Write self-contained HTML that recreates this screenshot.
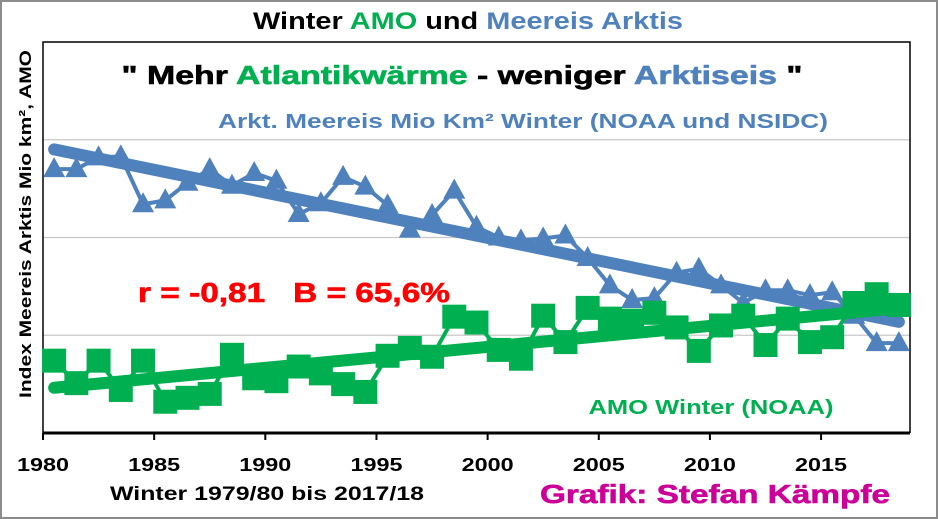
<!DOCTYPE html>
<html><head><meta charset="utf-8"><style>
body{margin:0;background:#fff;}
svg{display:block;font-family:"Liberation Sans",Arial,sans-serif;font-weight:bold;}
.h{stroke-width:0.6px;paint-order:stroke;}
</style></head><body>
<svg id="chart" width="938" height="519" viewBox="0 0 938 519">
<rect x="1" y="1" width="936" height="517" fill="#fff" stroke="#8c8c8c" stroke-width="2"/>
<text x="468" y="29" text-anchor="middle" font-size="24" textLength="430" lengthAdjust="spacingAndGlyphs">Winter <tspan fill="#00b050">AMO</tspan> und <tspan fill="#4f81bd">Meereis Arktis</tspan></text>
<g id="plot"></g>
<text class="h" stroke="#000" x="462" y="84" text-anchor="middle" font-size="26" textLength="681" lengthAdjust="spacingAndGlyphs">" Mehr <tspan fill="#00b050" stroke="#00b050">Atlantikwärme</tspan> - weniger <tspan fill="#4f81bd" stroke="#4f81bd">Arktiseis</tspan> "</text>
<text x="523" y="128" text-anchor="middle" font-size="20" fill="#4f81bd" textLength="610" lengthAdjust="spacingAndGlyphs">Arkt. Meereis Mio Km² Winter (NOAA und NSIDC)</text>
<text class="h" stroke="#ff0000" x="294" y="302" text-anchor="middle" font-size="28" fill="#ff0000" textLength="312" lengthAdjust="spacingAndGlyphs">r = -0,81 &#160;&#160;B = 65,6%</text>
<text x="711" y="414" text-anchor="middle" font-size="20" fill="#00b050" textLength="245" lengthAdjust="spacingAndGlyphs">AMO Winter (NOAA)</text>
<text transform="translate(31,224) rotate(-90)" text-anchor="middle" font-size="17" textLength="348" lengthAdjust="spacingAndGlyphs">Index Meereis Arktis Mio km², AMO</text>
<text x="267" y="500" text-anchor="middle" font-size="19" textLength="314" lengthAdjust="spacingAndGlyphs">Winter 1979/80 bis 2017/18</text>
<text class="h" stroke="#cc0099" x="715" y="503" text-anchor="middle" font-size="26" fill="#cc0099" textLength="350" lengthAdjust="spacingAndGlyphs">Grafik: Stefan Kämpfe</text>
</svg>
<script>
const years = [1980,1981,1982,1983,1984,1985,1986,1987,1988,1989,1990,1991,1992,1993,1994,1995,1996,1997,1998,1999,2000,2001,2002,2003,2004,2005,2006,2007,2008,2009,2010,2011,2012,2013,2014,2015,2016,2017,2018];
const iceValues = [2.70,2.70,2.82,2.83,2.34,2.38,2.56,2.70,2.53,2.66,2.58,2.24,2.35,2.62,2.52,2.33,2.08,2.23,2.48,2.11,2.00,1.97,1.99,2.02,1.79,1.51,1.36,1.38,1.64,1.68,1.51,1.33,1.46,1.46,1.41,1.44,1.20,0.92,0.92];
const amoValues = [0.74,0.51,0.74,0.44,0.74,0.32,0.36,0.40,0.80,0.56,0.53,0.68,0.61,0.50,0.42,0.79,0.87,0.78,1.19,1.13,0.85,0.76,1.20,0.93,1.28,1.17,1.15,1.23,1.08,0.84,1.10,1.20,0.90,1.17,0.93,0.98,1.33,1.42,1.31];
const xTickLabels = ["1980","1985","1990","1995","2000","2005","2010","2015"];
const yGridValues = [1,2,3];

const NS="http://www.w3.org/2000/svg";
const L=43,R=910,T=42,B=433,yMax=4;
const n=years.length, cw=(R-L)/n;
const xPos=i=>L+(i+0.5)*cw;
const yPos=v=>B-(v/yMax)*(B-T);
const g=document.getElementById('plot');
function mk(tag,attrs){const e=document.createElementNS(NS,tag);for(const k in attrs)e.setAttribute(k,attrs[k]);g.appendChild(e);return e;}

yGridValues.forEach(v=>{
  const e=mk('line',{x1:L,x2:R,y1:yPos(v),y2:yPos(v),stroke:'#c8c8c8','stroke-width':1.3});
  
  
});
const fr=mk('path',{d:`M${L},${B}V${T}H${R}V${B}`,fill:'none',stroke:'#000','stroke-width':1.5});


const xa=mk('line',{x1:L,x2:R,y1:B,y2:B,stroke:'#000','stroke-width':3});


xTickLabels.forEach((lab,k)=>{
  const x=L+k*5*cw;
  const t=mk('line',{x1:x,x2:x,y1:B,y2:B+7,stroke:'#000','stroke-width':2});
  
  
  const tx=mk('text',{x:x,y:B+38,'text-anchor':'middle','font-size':18,textLength:52,lengthAdjust:'spacingAndGlyphs'});
  tx.textContent=lab;
  
  
});

function trend(vals){
  const mx=(n-1)/2, my=vals.reduce((a,b)=>a+b,0)/n;
  let sxy=0,sxx=0;vals.forEach((v,i)=>{sxy+=(i-mx)*(v-my);sxx+=(i-mx)*(i-mx);});
  const b=sxy/sxx;return i=>my+b*(i-mx);
}
function series(vals,color,shape,name){
  const f=trend(vals);
  const tl=mk('line',{x1:xPos(0),y1:yPos(f(0)),x2:xPos(n-1),y2:yPos(f(n-1)),stroke:color,'stroke-width':12,'stroke-linecap':'round'});
  
  
  const ln=mk('polyline',{points:vals.map((v,i)=>xPos(i)+','+yPos(v)).join(' '),fill:'none',stroke:color,'stroke-width':4,'stroke-linejoin':'round'});
  
  
  vals.forEach((v,i)=>{
    const x=xPos(i),y=yPos(v);let m;
    if(shape==='tri') m=mk('path',{d:`M${x},${y-12}L${x+11},${y+8}L${x-11},${y+8}Z`,fill:color});
    else m=mk('rect',{x:x-12,y:y-12,width:24,height:24,fill:color});
    
    
  });
}
series(iceValues,'#4f81bd','tri','ice');
series(amoValues,'#00b050','sq','amo');
</script>
</body></html>
